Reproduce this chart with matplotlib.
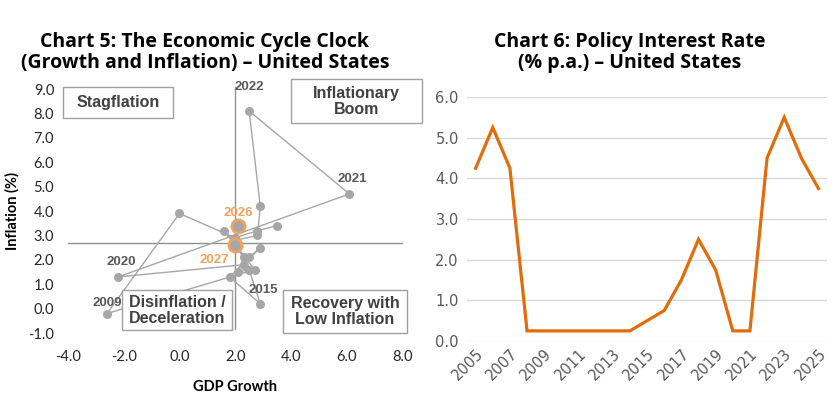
import matplotlib.pyplot as plt
from matplotlib.patches import Rectangle

# Chart 5 data: GDP growth vs inflation, 2005-2027
years = list(range(2005, 2028))
gdp = [3.5, 2.8, 2.0, 0.0, -2.6, 2.7, 1.6, 2.3, 2.1, 2.5, 2.9, 1.8,
       2.5, 2.9, 2.3, -2.2, 6.1, 2.5, 2.9, 2.8, 2.0, 2.1, 2.0]
inflation = [3.4, 3.2, 2.9, 3.9, -0.2, 1.6, 3.2, 2.1, 1.5, 1.6, 0.2, 1.3,
             2.1, 2.5, 1.8, 1.3, 4.7, 8.1, 4.2, 3.0, 2.8, 3.4, 2.6]
forecast_years = [2026, 2027]
labelled_years = [2009, 2015, 2020, 2021, 2022]

# Chart 6 data: policy rate
rate_years = list(range(2005, 2026))
policy_rate = [4.25, 5.25, 4.25, 0.25, 0.25, 0.25, 0.25, 0.25, 0.25, 0.25,
               0.5, 0.75, 1.5, 2.5, 1.75, 0.25, 0.25, 4.5, 5.5, 4.5, 3.75]

grey = '#A6A6A6'
orange = '#F0A35E'
dark = '#404040'
title_font = 'Open Sans'
tick_font = 'Lato'

fig = plt.figure(figsize=(8.4, 4.2), dpi=100)

# ---- left chart ----
ax = fig.add_axes([0.081, 0.207, 0.398, 0.581])
ax.set_xlim(-4, 8)
ax.set_ylim(-1, 9)
for s in ax.spines.values():
    s.set_visible(False)
ax.tick_params(length=0, labelsize=10.5, labelcolor='#262626')
ax.tick_params(axis='y', pad=10)
ax.tick_params(axis='x', pad=12)
ax.set_xticks(range(-4, 9, 2))
ax.set_yticks(range(-1, 10))
ax.set_xticklabels([f'{v:.1f}' for v in range(-4, 9, 2)], fontname=tick_font)
ax.set_yticklabels([f'{v:.1f}' for v in range(-1, 10)], fontname=tick_font)

# quadrant lines
ax.plot([2.0, 2.0], [-0.85, 9.1], color='#909090', lw=1.0, clip_on=False, zorder=1)
ax.plot([-4, 8], [2.7, 2.7], color='#909090', lw=1.0, clip_on=False, zorder=1)

ax.plot(gdp, inflation, color=grey, lw=1.0, zorder=2)
ax.scatter(gdp, inflation, s=42, color=grey, zorder=3, linewidths=0)
for y, gx, iy in zip(years, gdp, inflation):
    if y in forecast_years:
        ax.scatter([gx], [iy], s=90, facecolor=grey, edgecolor=orange, linewidths=2.0, zorder=4)

label_pos = {2009: (-2.6, 0.25), 2015: (3.0, 0.75), 2020: (-2.1, 1.9),
             2021: (6.2, 5.3), 2022: (2.5, 9.1)}
for y in labelled_years:
    lx, ly = label_pos[y]
    ax.text(lx, ly, str(y), ha='center', va='center', fontsize=9.5,
            fontweight='bold', color='#595959', fontname='Liberation Sans', zorder=5)
ax.text(2.1, 3.9, '2026', ha='center', va='center', fontsize=9.5,
        fontweight='bold', color=orange, fontname='Liberation Sans', zorder=5)
ax.text(1.25, 2.0, '2027', ha='center', va='center', fontsize=9.5,
        fontweight='bold', color=orange, fontname='Liberation Sans', zorder=5)

# quadrant boxes
boxes = [((-4.18, 7.8), 3.96, 1.28, 'Stagflation'),
         ((3.99, 7.6), 4.7, 1.8, 'Inflationary\nBoom'),
         ((-2.06, -0.88), 3.96, 1.64, 'Disinflation /\nDeceleration'),
         ((3.73, -0.98), 4.43, 1.74, 'Recovery with\nLow Inflation')]
for (bx, by), bw, bh, txt in boxes:
    ax.add_patch(Rectangle((bx, by), bw, bh, facecolor='white', edgecolor='#A0A0A0',
                           lw=1.0, clip_on=False, zorder=6))
    ax.text(bx + bw / 2, by + bh / 2, txt, ha='center', va='center', fontsize=11.5,
            fontweight='bold', color=dark, fontname='Liberation Sans',
            linespacing=1.1, zorder=7)

ax.set_xlabel('GDP Growth', fontsize=10.5, fontweight='bold', fontname=tick_font, labelpad=12)
ax.set_ylabel('Inflation (%)', fontsize=10.5, fontweight='bold', fontname=tick_font, labelpad=6)

fig.text(0.244, 0.875, 'Chart 5: The Economic Cycle Clock\n(Growth and Inflation) – United States',
         ha='center', va='center', fontsize=14, fontweight='bold', fontname=title_font,
         linespacing=1.05)

# ---- right chart ----
ax2 = fig.add_axes([0.556, 0.188, 0.4286, 0.581])
ax2.plot(rate_years, policy_rate, color='#E36C0A', lw=2.3, solid_joinstyle='miter')
ax2.set_xlim(2004.5, 2025.5)
ax2.set_ylim(0, 6)
ax2.set_yticks(range(0, 7))
ax2.set_yticklabels([f'{v:.1f}' for v in range(0, 7)], fontname='DejaVu Sans')
ax2.set_xticks(range(2005, 2026, 2))
ax2.set_xticklabels([str(v) for v in range(2005, 2026, 2)], rotation=45,
                    ha='right', rotation_mode='anchor', fontname='DejaVu Sans')
ax2.tick_params(length=0, labelsize=10.5, labelcolor='#595959')
ax2.tick_params(axis='y', pad=6)
ax2.grid(axis='y', color='#D9D9D9', lw=1.0)
ax2.set_axisbelow(True)
for s in ax2.spines.values():
    s.set_visible(False)

fig.text(0.75, 0.875, 'Chart 6: Policy Interest Rate\n(% p.a.) – United States',
         ha='center', va='center', fontsize=14, fontweight='bold', fontname=title_font,
         linespacing=1.05)

fig.savefig('out.png', dpi=100)
